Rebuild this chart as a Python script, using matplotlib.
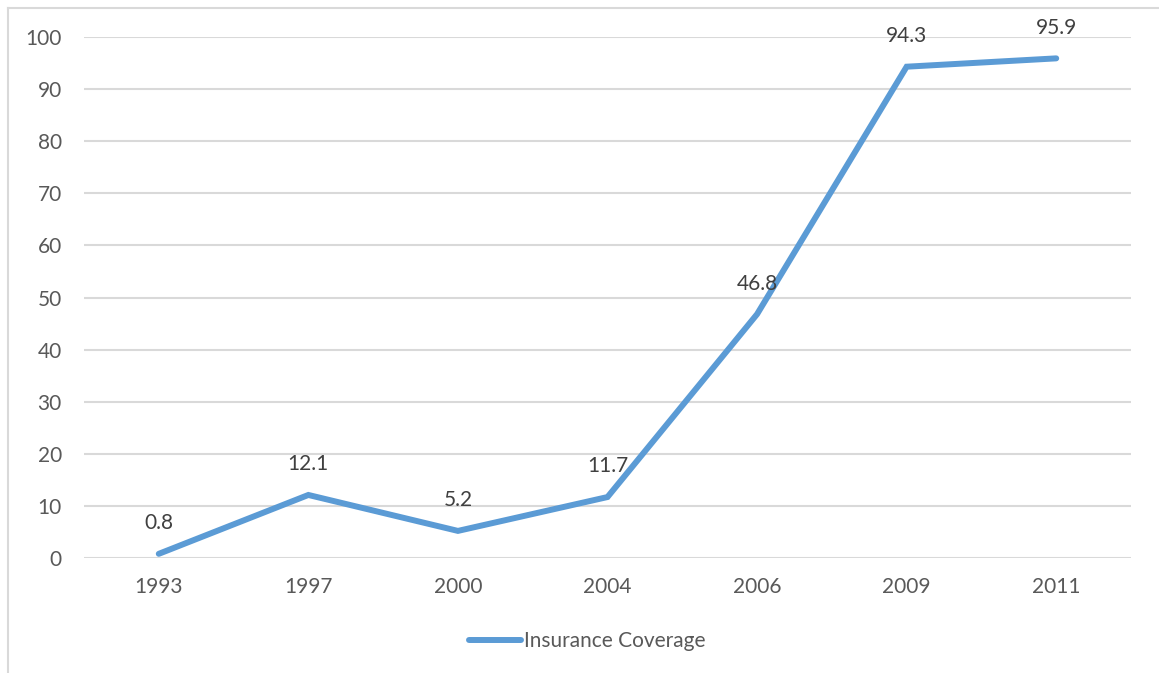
""" Line chart of insurance coverage by survey year, Excel style """

import matplotlib
matplotlib.use('Agg')
import matplotlib.pyplot as plt
from matplotlib.lines import Line2D

plt.rcParams['font.family'] = ['Lato', 'DejaVu Sans']

years = ['1993', '1997', '2000', '2004', '2006', '2009', '2011']
coverage = [0.8, 12.1, 5.2, 11.7, 46.8, 94.3, 95.9]
series_name = 'Insurance Coverage'

line_colour = '#5B9BD5'
grid_colour = '#D9D9D9'
text_colour = '#595959'

fig = plt.figure(figsize=(11.59, 6.73), dpi=100)
ax = fig.add_axes([84 / 1159, 1 - 558 / 673, (1131 - 84) / 1159, (558 - 37) / 673])

x = list(range(len(years)))
ax.plot(x, coverage, color=line_colour, lw=4.3, solid_capstyle='round',
        solid_joinstyle='miter', zorder=3)

# Data labels above each point
for xi, val in zip(x, coverage):
    ax.annotate(f'{val:g}', (xi, val), xytext=(0, 22), textcoords='offset points',
                ha='center', va='center', fontsize=15, color='#404040')

ax.set_xlim(-0.5, len(years) - 0.5)
ax.set_ylim(0, 100)
ax.set_yticks(range(0, 101, 10))
ax.set_xticks(x)
ax.set_xticklabels(years)
ax.yaxis.grid(True, color=grid_colour, lw=1.5)
ax.set_axisbelow(True)
for spine in ax.spines.values():
    spine.set_visible(False)
ax.tick_params(axis='both', length=0, labelsize=15, labelcolor=text_colour)
ax.tick_params(axis='y', pad=16)
ax.tick_params(axis='x', pad=14)

# Legend below the plot
handle = Line2D([0], [0], color=line_colour, lw=4.3, solid_capstyle='round')
fig.legend([handle], [series_name], loc='center',
           bbox_to_anchor=(587 / 1159, 1 - 641 / 673), frameon=False,
           fontsize=15, labelcolor=text_colour, handlelength=2.5,
           handletextpad=0.15)

# Chart area border (left and top edges visible)
fig.add_artist(Line2D([8 / 1159, 8 / 1159], [0, 1 - 8 / 673], color=grid_colour,
                      lw=1.5, transform=fig.transFigure))
fig.add_artist(Line2D([8 / 1159, 1], [1 - 8 / 673, 1 - 8 / 673], color=grid_colour,
                      lw=1.5, transform=fig.transFigure))

fig.savefig('out.png', dpi=100)
